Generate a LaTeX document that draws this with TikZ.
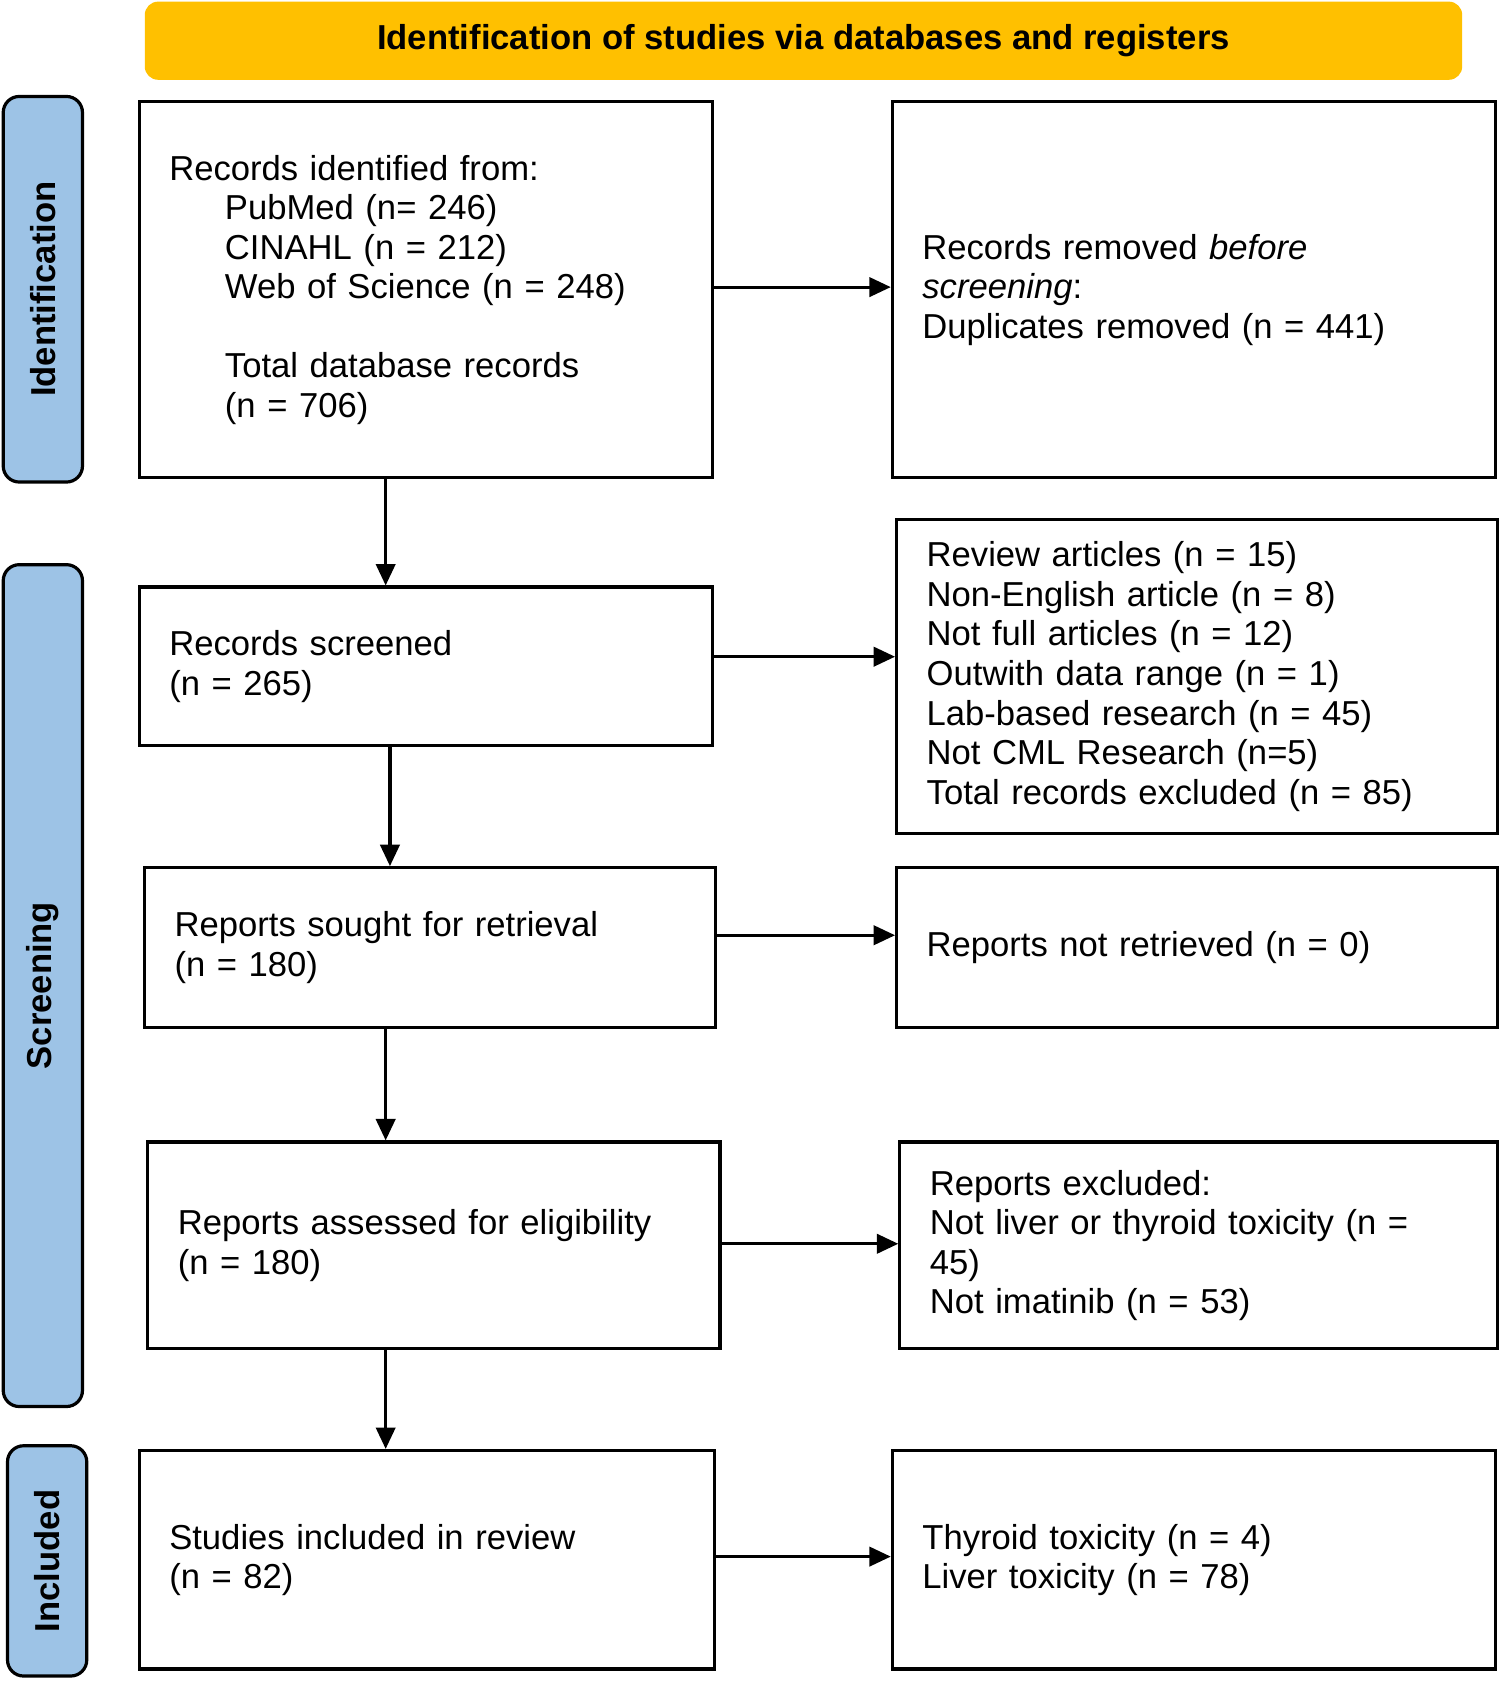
\documentclass[tikz,border=0pt]{standalone}
\usepackage{fontspec}
\setmainfont{Liberation Sans}
\usetikzlibrary{arrows.meta}

\begin{document}
\begin{tikzpicture}
  [
    x = 0.02cm, y = -0.02cm,
    box/.style = {draw, line width=1.7pt, rectangle, align=left, inner xsep=0.56cm,
      font=\fontsize{18.4}{21}\selectfont},
    side/.style = {draw, line width=1.7pt, rounded corners=0.3cm, fill=sideblue,
      font=\bfseries\fontsize{18.4}{21}\selectfont},
    flow/.style = {-{Triangle[length=0.4cm, width=0.36cm]}, line width=1.7pt}
  ]
  \definecolor{sideblue}{HTML}{9DC3E6}
  \definecolor{headorange}{HTML}{FFC000}
  \useasboundingbox (0,0) rectangle (1404,1571);
  % box: name, x1, y1, x2, y2, text
  \newcommand{\pbox}[6]{%
    \node[box, minimum width={(#4-#2)*0.02cm}, minimum height={(#5-#3)*0.02cm},
      text width={(#4-#2)*0.02cm-1.12cm}] (#1) at ({(#2+#4)/2},{(#3+#5)/2}) {#6};}
  % header and side labels
  \node[fill=headorange, rounded corners=0.25cm, minimum width=24.6cm, minimum height=1.46cm,
    font=\bfseries\fontsize{18.4}{21}\selectfont] (head) at (750,38)
    {Identification of studies via databases and registers};
  \node[side, minimum width=7.2cm, minimum height=1.48cm, rotate=90] (ident) at (40,270) {Identification};
  \node[side, minimum width=15.72cm, minimum height=1.48cm, rotate=90] (screen) at (40,920) {Screening};
  \node[side, minimum width=4.3cm, minimum height=1.48cm, rotate=90] (incl) at (44,1457) {Included};
  % left column
  \pbox{records}{130}{95}{665}{446}{Records identified from:\\
    \hspace*{1.04cm}PubMed (n= 246)\\
    \hspace*{1.04cm}CINAHL (n = 212)\\
    \hspace*{1.04cm}Web of Science (n = 248)\\[0.74cm]
    \hspace*{1.04cm}Total database records\\
    \hspace*{1.04cm}(n = 706)}
  \pbox{screened}{130}{548}{665}{696}{Records screened\\(n = 265)}
  \pbox{sought}{135}{810}{668}{959}{Reports sought for retrieval\\(n = 180)}
  \pbox{assessed}{138}{1066}{672}{1259}{Reports assessed for eligibility\\(n = 180)}
  \pbox{included}{130}{1354}{667}{1558}{Studies included in review\\(n = 82)}
  % right column
  \pbox{removed}{833}{95}{1396}{446}{Records removed \emph{before}\\\emph{screening}:\\Duplicates removed (n = 441)}
  \pbox{excluded}{837}{485}{1398}{778}{Review articles (n = 15)\\Non-English article (n = 8)\\
    Not full articles (n = 12)\\Outwith data range (n = 1)\\Lab-based research (n = 45)\\
    Not CML Research (n=5)\\Total records excluded (n = 85)}
  \pbox{notret}{837}{810}{1398}{959}{Reports not retrieved (n = 0)}
  \pbox{repexcl}{840}{1066}{1398}{1259}{Reports excluded:\\Not liver or thyroid toxicity (n = 45)\\Not imatinib (n = 53)}
  \pbox{toxicity}{833}{1354}{1396}{1558}{Thyroid toxicity (n = 4)\\Liver toxicity (n = 78)}
  % connectors
  \draw[flow] (records.south -| 360,0) -- (screened.north -| 360,0);
  \draw[flow] (screened.south -| 364,0) -- (sought.north -| 364,0);
  \draw[flow] (sought.south -| 360,0) -- (assessed.north -| 360,0);
  \draw[flow] (assessed.south -| 360,0) -- (included.north -| 360,0);
  \draw[flow] (records.east |- 0,268) -- (removed.west |- 0,268);
  \draw[flow] (screened.east |- 0,613) -- (excluded.west |- 0,613);
  \draw[flow] (sought.east |- 0,873) -- (notret.west |- 0,873);
  \draw[flow] (assessed.east |- 0,1161) -- (repexcl.west |- 0,1161);
  \draw[flow] (included.east |- 0,1453) -- (toxicity.west |- 0,1453);
\end{tikzpicture}
\end{document}
